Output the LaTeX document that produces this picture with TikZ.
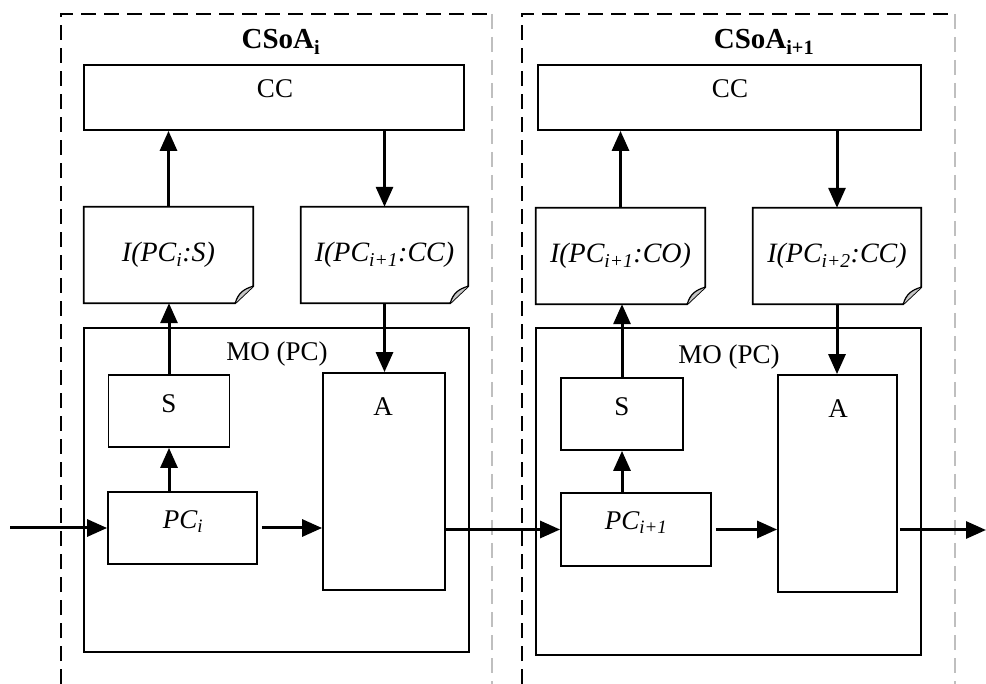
\documentclass[tikz,border=0pt]{standalone}
\usepackage{fontspec}
\setmainfont{Liberation Serif}
\usetikzlibrary{arrows.meta}
\newcommand\docfold[1]{%
  \draw[boxline] (#1.north west) -- (#1.north east) -- ([yshift=17pt]#1.south east)
    -- ([xshift=-18pt]#1.south east) -- (#1.south west) -- cycle;
  \fill[gray!45] ([xshift=-18pt]#1.south east) .. controls ([xshift=-15pt,yshift=10pt]#1.south east) and ([xshift=-10pt,yshift=14pt]#1.south east) .. ([yshift=17pt]#1.south east) -- cycle;
  \draw[line width=1.2pt] ([xshift=-18pt]#1.south east) .. controls ([xshift=-15pt,yshift=10pt]#1.south east) and ([xshift=-10pt,yshift=14pt]#1.south east) .. ([yshift=17pt]#1.south east);
}
\begin{document}
\begin{tikzpicture}[x=1pt,y=-1pt,
  boxline/.style={line width=1.8pt},
  box/.style={draw, boxline, inner sep=0pt},
  doc/.style={inner sep=0pt, font=\fontsize{28}{32}\selectfont\itshape},
  txt/.style={inner sep=0pt, font=\fontsize{27}{32}\selectfont},
  ttl/.style={inner sep=0pt, font=\fontsize{29}{34}\selectfont\bfseries},
  arr/.style={line width=3pt, -{Triangle[length=20pt,width=17pt]}},
  blackdash/.style={line width=1.8pt, dash pattern=on 15pt off 8pt},
  graydash/.style={line width=1.8pt, gray!50, dash pattern=on 15pt off 8pt}]
\useasboundingbox (0,0) rectangle (986,684);
% outer dashed frames
\draw[blackdash] (61,684) -- (61,14) -- (492,14);
\draw[graydash] (492,14) -- (492,684);
\draw[blackdash] (522,684) -- (522,14) -- (955,14);
\draw[graydash] (955,14) -- (955,684);
\node[ttl] (T1) at (281,42) {CSoA\textsubscript{i}};
\node[ttl] (T2) at (764,42) {CSoA\textsubscript{i+1}};
% left block
\node[box, minimum width=380pt, minimum height=65pt] (CC1) at (274,97.5) {};
\node[txt] (CC1t) at (275,89) {CC};
\node[doc, minimum width=169pt, minimum height=96pt] (D1) at (168.5,255) {I(PC\textsubscript{i}:S)};
\node[doc, minimum width=167pt, minimum height=96pt] (D2) at (384.5,255) {I(PC\textsubscript{i+1}:CC)};
\docfold{D1}
\docfold{D2}
\node[box, minimum width=385pt, minimum height=324pt] (MO1) at (276.5,490) {};
\node[txt] (MO1t) at (277,354) {MO (PC)};
\node[box, minimum width=121pt, minimum height=72pt] (S1) at (169,411) {};
\node[txt] (S1t) at (169,404) {S};
\node[box, minimum width=149pt, minimum height=72pt] (PC1) at (182.5,528) {};
\node[txt] (PC1t) at (183,522) {\itshape PC\textsubscript{i}};
\node[box, minimum width=122pt, minimum height=217pt] (A1) at (384,481.5) {};
\node[txt] (A1t) at (383,407) {A};
% right block
\node[box, minimum width=383pt, minimum height=65pt] (CC2) at (729.5,97.5) {};
\node[txt] (CC2t) at (730,89) {CC};
\node[doc, minimum width=169pt, minimum height=96pt] (D3) at (620.5,256) {I(PC\textsubscript{i+1}:CO)};
\node[doc, minimum width=168pt, minimum height=96pt] (D4) at (837,256) {I(PC\textsubscript{i+2}:CC)};
\docfold{D3}
\docfold{D4}
\node[box, minimum width=385pt, minimum height=327pt] (MO2) at (728.5,491.5) {};
\node[txt] (MO2t) at (729,357) {MO (PC)};
\node[box, minimum width=122pt, minimum height=72pt] (S2) at (622,414) {};
\node[txt] (S2t) at (622,407) {S};
\node[box, minimum width=150pt, minimum height=73pt] (PC2) at (636,529.5) {};
\node[txt] (PC2t) at (636,523) {\itshape PC\textsubscript{i+1}};
\node[box, minimum width=119pt, minimum height=217pt] (A2) at (837.5,483.5) {};
\node[txt] (A2t) at (838,409) {A};
% connectors
\coordinate (in) at (10,528);
\coordinate (out) at (986,530);
\draw[arr] (in) -- (PC1.west);
\draw[arr] ([xshift=4pt]PC1.east) -- (PC1.east -| A1.west);
\draw[arr] (PC1.north -| S1) -- (S1.south);
\draw[arr] (S1.north) -- (S1.north |- D1.south);
\draw[arr] (D1.north) -- (D1.north |- CC1.south);
\draw[arr] (CC1.south -| D2) -- (D2.north);
\draw[arr] (D2.south) -- (D2.south |- A1.north);
\draw[arr] (PC2.west -| A1.east) -- (PC2.west);
\draw[arr] ([xshift=4pt]PC2.east) -- (PC2.east -| A2.west);
\draw[arr] (PC2.north -| S2) -- (S2.south);
\draw[arr] (S2.north) -- (S2.north |- D3.south);
\draw[arr] (D3.north) -- (D3.north |- CC2.south);
\draw[arr] (CC2.south -| D4) -- (D4.north);
\draw[arr] (D4.south) -- (D4.south |- A2.north);
\draw[arr] ([xshift=2pt]A2.east |- out) -- (out);
\end{tikzpicture}
\end{document}
